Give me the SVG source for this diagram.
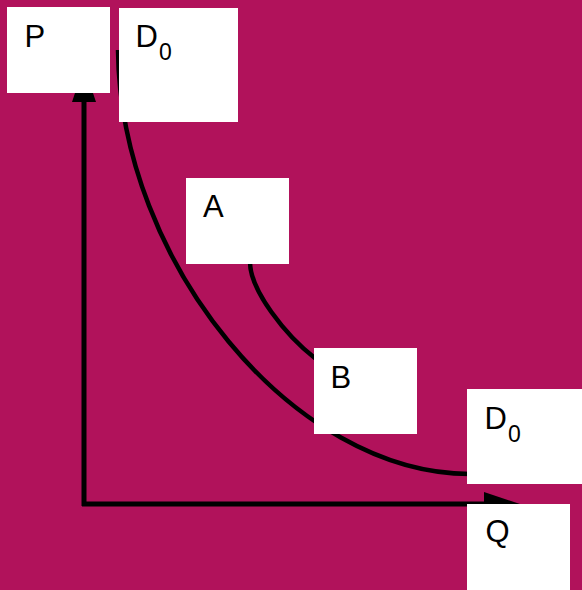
<svg xmlns="http://www.w3.org/2000/svg" width="582" height="590" viewBox="0 0 582 590">
  <style>
    .box { fill: #ffffff; stroke: none; }
    .lbl { font-family: "Liberation Sans", Arial, sans-serif; font-size: 31px; fill: #000000; }
    .sub { font-size: 23px; }
    .line { fill: none; stroke: #000000; stroke-width: 4.5; }
    .axis { fill: none; stroke: #000000; stroke-width: 5; }
    .head { fill: #000000; stroke: none; }
  </style>
  <rect x="0" y="0" width="582" height="590" fill="#b1125b"/>
  <g id="connectors">
    <path class="axis" d="M84,506 L84,100"/>
    <path class="axis" d="M82,504 L486,504"/>
    <polygon class="head" points="84,66 72,102 96,102"/>
    <polygon class="head" points="520,504 484,492 484,516"/>
    <path class="line" d="M118,50 C120,262 293.5,474 470,474"/>
    <path class="line" d="M250,262 C250,290 285,335 316,359"/>
  </g>
  <g id="node-P">
    <rect class="box" x="7" y="7" width="103" height="86"/>
    <text class="lbl" x="24.5" y="47">P</text>
  </g>
  <g id="node-D0-top">
    <rect class="box" x="119" y="8" width="119" height="114"/>
    <text class="lbl" x="135.5" y="47">D<tspan class="sub" dx="1" dy="13">0</tspan></text>
  </g>
  <g id="node-A">
    <rect class="box" x="186" y="178" width="103" height="86"/>
    <text class="lbl" x="203" y="217">A</text>
  </g>
  <g id="node-B">
    <rect class="box" x="314" y="348" width="103" height="86"/>
    <text class="lbl" x="330.5" y="388">B</text>
  </g>
  <g id="node-D0-bottom">
    <rect class="box" x="467" y="389" width="115" height="95"/>
    <text class="lbl" x="484.5" y="429">D<tspan class="sub" dx="1" dy="12.5">0</tspan></text>
  </g>
  <g id="node-Q">
    <rect class="box" x="467" y="504" width="103" height="86"/>
    <text class="lbl" x="485.5" y="542">Q</text>
  </g>
</svg>
